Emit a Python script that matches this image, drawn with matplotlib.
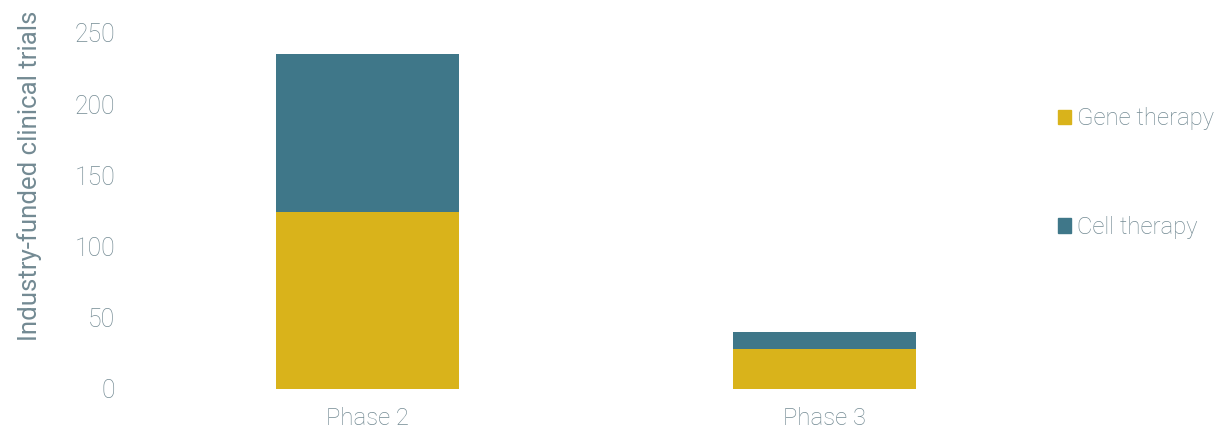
import matplotlib

matplotlib.use("Agg")
import matplotlib.pyplot as plt
from matplotlib.patches import Patch

phases = ["Phase 2", "Phase 3"]
gene = [124, 28]
cell = [111, 12]

_GOLD, _TEAL, _TXT = "#D9B31B", "#3F7789", "#738A93"

plt.rcParams["font.family"] = ["Roboto", "DejaVu Sans"]
plt.rcParams["font.weight"] = "light"
_FS = 17.2

fig = plt.figure(figsize=(12.18, 4.29), dpi=100)
ax = fig.add_axes([139 / 1218, 40 / 429, (1053 - 139) / 1218, (389 - 33) / 429])

x = range(len(phases))
ax.bar(x, gene, width=0.4, color=_GOLD, label="Gene therapy")
ax.bar(x, cell, width=0.4, bottom=gene, color=_TEAL, label="Cell therapy")

ax.set_xlim(-0.5, 1.5)
ax.set_ylim(0, 250)
ax.set_yticks(range(0, 251, 50))
ax.set_xticks(list(x))
ax.set_xticklabels(phases)
for s in ax.spines.values():
    s.set_visible(False)
ax.tick_params(length=0, labelsize=_FS, labelcolor=_TXT)
ax.tick_params(axis="x", pad=13)
ax.tick_params(axis="y", pad=17, labelsize=17.8)
ax.set_ylabel("Industry-funded clinical trials", fontsize=18.5, color=_TXT)
ax.yaxis.set_label_coords(-0.106, 0.598)

handles = [Patch(color=_GOLD, label="Gene therapy"), Patch(color=_TEAL, label="Cell therapy")]
fig.legend(handles=handles, loc="center left", bbox_to_anchor=(1058 / 1218, 1 - 173 / 429),
           frameon=False, fontsize=_FS, labelcolor=_TXT, handlelength=0.55, handleheight=0.55,
           handletextpad=0.25, labelspacing=3.58, borderpad=0, borderaxespad=0)

fig.savefig("out.png", dpi=100)
